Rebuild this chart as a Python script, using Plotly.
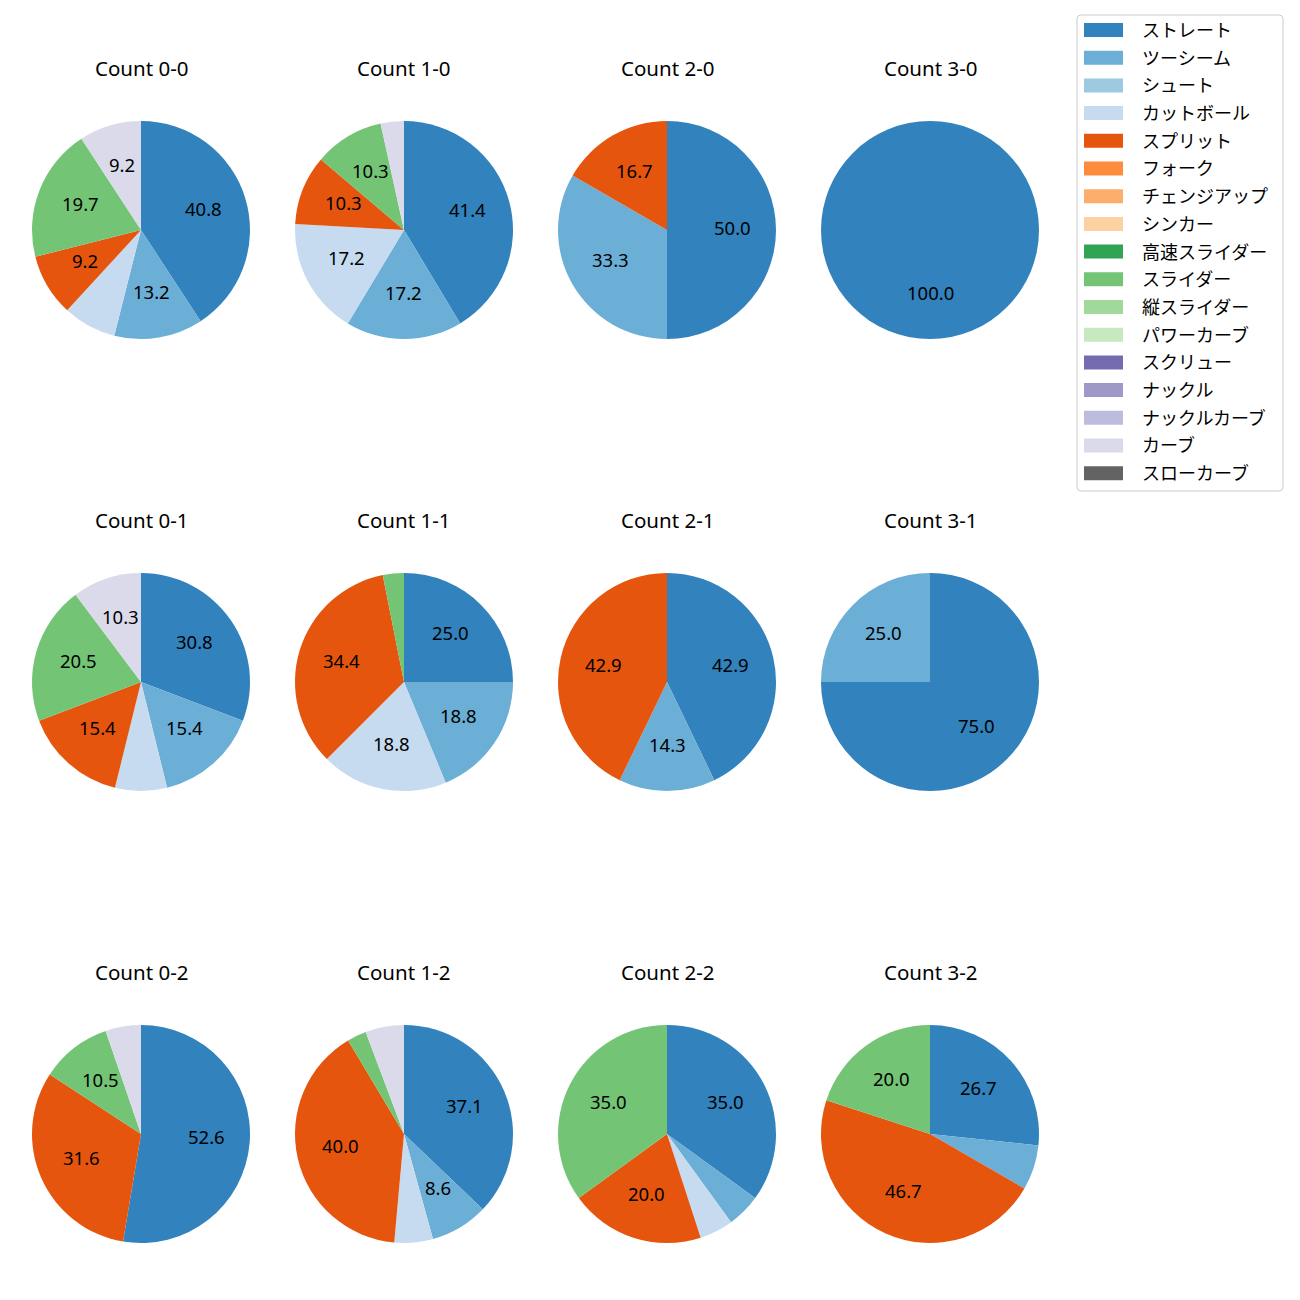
import math
import plotly.graph_objects as go

# ---- data ----
pitch_types = ["ストレート", "ツーシーム", "シュート", "カットボール", "スプリット", "フォーク",
               "チェンジアップ", "シンカー", "高速スライダー", "スライダー", "縦スライダー",
               "パワーカーブ", "スクリュー", "ナックル", "ナックルカーブ", "カーブ", "スローカーブ"]
pitch_colors = ["#3182bd", "#6baed6", "#9ecae1", "#c6dbef", "#e6550d", "#fd8d3c",
                "#fdae6b", "#fdd0a2", "#31a354", "#74c476", "#a1d99b",
                "#c7e9c0", "#756bb1", "#9e9ac8", "#bcbddc", "#dadaeb", "#636363"]

counts = ["0-0", "1-0", "2-0", "3-0", "0-1", "1-1", "2-1", "3-1", "0-2", "1-2", "2-2", "3-2"]

# pitches thrown per count (same order as counts)
straight = [31, 12, 3, 1, 12, 8, 3, 3, 10, 13, 7, 4]
twoseam = [10, 5, 2, 0, 6, 6, 1, 1, 0, 3, 1, 1]
cutter = [6, 5, 0, 0, 3, 6, 0, 0, 0, 2, 1, 0]
split = [7, 3, 1, 0, 6, 11, 3, 0, 6, 14, 4, 7]
slider = [15, 3, 0, 0, 8, 1, 0, 0, 2, 1, 7, 3]
curve = [7, 1, 0, 0, 4, 0, 0, 0, 1, 2, 0, 0]

series = {
    "ストレート": straight,
    "ツーシーム": twoseam,
    "カットボール": cutter,
    "スプリット": split,
    "スライダー": slider,
    "カーブ": curve,
}
color_of = dict(zip(pitch_types, pitch_colors))

# ---- layout constants (pixels) ----
W = H = 1300
FONT = "Noto Sans, Noto Sans CJK JP"
CJK = "Noto Sans CJK JP"
col_x = [141, 404, 667, 930]
row_y = [230, 682, 1134]
title_y = [69, 521, 973]
R = 109
LABEL_MIN = 8.0


def px(x):
    return x / W


def py(y):
    return 1 - y / H


fig = go.Figure()
annotations = []
shapes = []

labels_used = [p for p in pitch_types if p in series]

for k, cnt in enumerate(counts):
    r, c = divmod(k, 4)
    cx, cy = col_x[c], row_y[r]
    vals = [series[p][k] for p in labels_used]
    cols = [color_of[p] for p in labels_used]
    fig.add_trace(go.Pie(
        labels=labels_used, values=vals,
        marker=dict(colors=cols, line=dict(width=0)),
        sort=False, direction="clockwise", rotation=0,
        textinfo="none", showlegend=False,
        domain=dict(x=[px(cx - R), px(cx + R)], y=[py(cy + R), py(cy - R)]),
        hovertemplate="%{label}: %{percent}<extra>Count " + cnt + "</extra>",
    ))
    annotations.append(dict(
        x=px(cx), y=py(title_y[r]), xref="paper", yref="paper",
        text="Count " + cnt, showarrow=False, xanchor="center", yanchor="middle",
        yshift=1, font=dict(family=FONT, size=20.5, color="black"),
    ))
    # percentage labels at 0.6 radius (matplotlib style autopct)
    total = sum(vals)
    cum = 0
    for v in vals:
        if v > 0:
            pct = 100 * v / total
            mid = math.radians(90 - 360 * (cum + v / 2) / total)
            if pct >= LABEL_MIN:
                lx = cx + 0.6 * R * math.cos(mid)
                ly = cy - 0.6 * R * math.sin(mid)
                annotations.append(dict(
                    x=px(lx), y=py(ly), xref="paper", yref="paper",
                    text=f"{pct:.1f}", showarrow=False, xanchor="center", yanchor="middle",
                    yshift=3, font=dict(family=FONT, size=18.5, color="black"),
                ))
        cum += v

# ---- legend (matplotlib style) ----
lx0, lx1, ly0, ly1, rad = 1077, 1283, 15, 491, 4
path = (f"M {px(lx0 + rad)} {py(ly0)} L {px(lx1 - rad)} {py(ly0)} "
        f"Q {px(lx1)} {py(ly0)} {px(lx1)} {py(ly0 + rad)} "
        f"L {px(lx1)} {py(ly1 - rad)} Q {px(lx1)} {py(ly1)} {px(lx1 - rad)} {py(ly1)} "
        f"L {px(lx0 + rad)} {py(ly1)} Q {px(lx0)} {py(ly1)} {px(lx0)} {py(ly1 - rad)} "
        f"L {px(lx0)} {py(ly0 + rad)} Q {px(lx0)} {py(ly0)} {px(lx0 + rad)} {py(ly0)} Z")
shapes.append(dict(type="path", path=path, xref="paper", yref="paper",
                   line=dict(color="#cccccc", width=1), fillcolor="rgba(255,255,255,0.8)"))
for i, (name, col) in enumerate(zip(pitch_types, pitch_colors)):
    yc = 30 + i * 27.7
    shapes.append(dict(type="rect", xref="paper", yref="paper",
                       x0=px(1084), x1=px(1123), y0=py(yc + 7), y1=py(yc - 7),
                       line=dict(width=0), fillcolor=col))
    annotations.append(dict(
        x=px(1140), y=py(yc), xref="paper", yref="paper", text=name, showarrow=False,
        xanchor="left", yanchor="middle", yshift=1,
        font=dict(family=CJK, size=18, color="black"),
    ))

fig.update_layout(
    width=W, height=H, autosize=False,
    margin=dict(l=0, r=0, t=0, b=0),
    paper_bgcolor="white", plot_bgcolor="white",
    font=dict(family=FONT, color="black"),
    annotations=annotations, shapes=shapes, showlegend=False,
)

fig.write_html("out.html", config={"displayModeBar": False},
               post_script="document.body.style.margin='0';")
